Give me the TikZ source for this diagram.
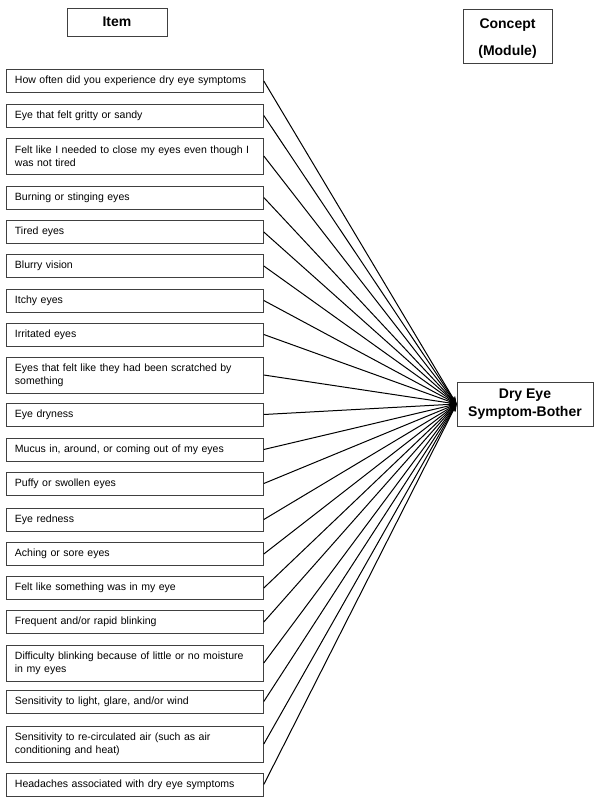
\documentclass[tikz,border=0pt]{standalone}
\usepackage{fontspec}
\setmainfont{Liberation Sans}
\usetikzlibrary{arrows.meta}
\tikzset{
  item/.style={draw=black!75, line width=0.6pt, anchor=west, align=left,
    text width=180pt, inner xsep=6.375pt, inner ysep=0pt,
    minimum height=17.25pt, font=\fontsize{7.9}{9.8}\selectfont},
  twoline/.style={minimum height=27pt},
  head/.style={draw=black!75, line width=0.6pt, align=center, inner sep=0pt,
    font=\bfseries\fontsize{10.5}{20.5}\selectfont},
  link/.style={line width=0.75pt, -{Stealth[length=5.5pt,width=4pt]}}
}

\begin{document}
\begin{tikzpicture}[x=0.75pt, y=-0.75pt]
		\useasboundingbox (0,0) rectangle (600,801);
		%----------------------------------------------------
		% Column headers and the concept
		%----------------------------------------------------
		\node[head, minimum width=75pt, minimum height=21pt] (I) at (117,22) {Item};
		\node[head, minimum width=66.75pt, minimum height=40.5pt] (C) at (507.5,36) {\rule{0pt}{11pt}Concept\\(Module)};
		\node[head, minimum width=102pt, minimum height=33pt,
		  font=\bfseries\fontsize{10.5}{13.75}\selectfont] (D) at (525,404) {Dry Eye\\Symptom-Bother};
		
		%----------------------------------------------------
		% Items, top to bottom
		%----------------------------------------------------
		\node[item] (i1) at (6,81) {How often did you experience dry eye symptoms};
		\node[item] (i2) at (6,115.5) {Eye that felt gritty or sandy};
		\node[item, twoline] (i3) at (6,156) {Felt like I needed to close my eyes even though I\\was not tired};
		\node[item] (i4) at (6,197.5) {Burning or stinging eyes};
		\node[item] (i5) at (6,232) {Tired eyes};
		\node[item] (i6) at (6,266) {Blurry vision};
		\node[item] (i7) at (6,300.5) {Itchy eyes};
		\node[item] (i8) at (6,334.5) {Irritated eyes};
		\node[item, twoline] (i9) at (6,375) {Eyes that felt like they had been scratched by\\something};
		\node[item] (i10) at (6,414.5) {Eye dryness};
		\node[item] (i11) at (6,449.5) {Mucus in, around, or coming out of my eyes};
		\node[item] (i12) at (6,483.5) {Puffy or swollen eyes};
		\node[item] (i13) at (6,519.5) {Eye redness};
		\node[item] (i14) at (6,554) {Aching or sore eyes};
		\node[item] (i15) at (6,588) {Felt like something was in my eye};
		\node[item] (i16) at (6,622) {Frequent and/or rapid blinking};
		\node[item, twoline] (i17) at (6,663) {Difficulty blinking because of little or no moisture\\in my eyes};
		\node[item] (i18) at (6,701.5) {Sensitivity to light, glare, and/or wind};
		\node[item, twoline] (i19) at (6,744) {Sensitivity to re-circulated air (such as air\\conditioning and heat)};
		\node[item] (i20) at (6,784.5) {Headaches associated with dry eye symptoms};
		
		% every item points to the concept
		\foreach \n in {1,...,20}
		  \draw[link] (i\n.east) -- (D.west);
	\end{tikzpicture}
\end{document}
